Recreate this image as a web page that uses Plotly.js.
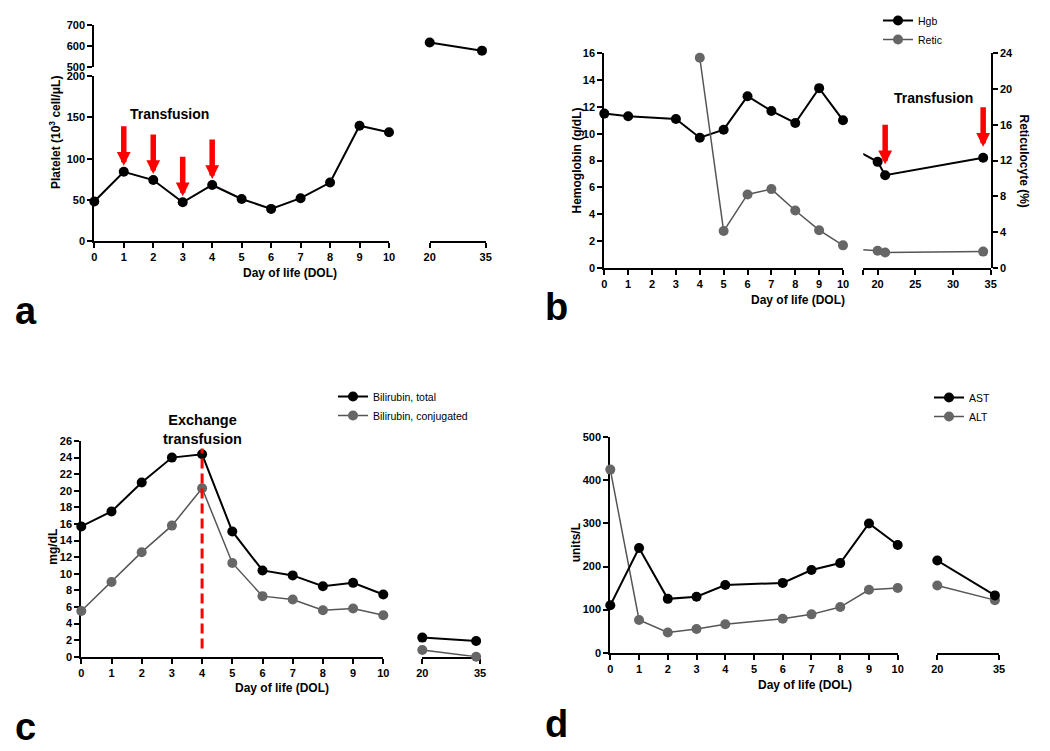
<!DOCTYPE html>
<html>
<head>
<meta charset="utf-8">
<script src="https://cdn.plot.ly/plotly-3.0.1.min.js"></script>
<style>html,body{margin:0;padding:0;background:#fff;}#chart{width:1050px;height:751px;}</style>
</head>
<body>
<div id="chart"></div>
<script>
// ---------- data ----------
// Panel a: platelets
const dolA = [0, 1, 2, 3, 4, 5, 6, 7, 8, 9, 10];
const platelet = [48, 84, 74, 47, 68, 51, 39, 52, 71, 140, 132];
const dolALate = [20, 34];
const plateletLate = [616, 577];
const transfusionDaysA = [1, 2, 3, 4];

// Panel b: hemoglobin and reticulocytes
const dolHgb = [0, 1, 3, 4, 5, 6, 7, 8, 9, 10, 20, 21, 34];
const hgb = [11.5, 11.3, 11.1, 9.7, 10.3, 12.8, 11.7, 10.8, 13.4, 11.0, 7.9, 6.9, 8.2];
const dolRetic = [4, 5, 6, 7, 8, 9, 10, 20, 21, 34];
const retic = [23.5, 4.1, 8.2, 8.8, 6.4, 4.2, 2.5, 1.9, 1.7, 1.8];
const transfusionDaysB = [21, 34];

// Panel c: bilirubin
const dolBili = [0, 1, 2, 3, 4, 5, 6, 7, 8, 9, 10, 20, 34];
const biliTotal = [15.7, 17.5, 21.0, 24.0, 24.4, 15.1, 10.4, 9.8, 8.5, 8.9, 7.5, 2.3, 1.9];
const biliConj = [5.5, 9.0, 12.6, 15.8, 20.3, 11.3, 7.3, 6.9, 5.6, 5.8, 5.0, 0.8, 0.0];
const exchangeDay = 4;

// Panel d: liver enzymes
const dolLiver = [0, 1, 2, 3, 4, 6, 7, 8, 9, 10, 20, 34];
const ast = [110, 243, 125, 130, 157, 162, 192, 208, 300, 250, 214, 133];
const alt = [425, 76, 47, 55, 66, 79, 89, 106, 146, 150, 156, 122];

// tick labels
const earlyTicks = [0, 1, 2, 3, 4, 5, 6, 7, 8, 9, 10];
const lateTicks = [20, 35];
const lateTicksB = [20, 25, 30, 35];
const plateletTicks = [0, 50, 100, 150, 200];
const plateletHighTicks = [500, 600, 700];
const hgbTicks = [0, 2, 4, 6, 8, 10, 12, 14, 16];
const reticTicks = [0, 4, 8, 12, 16, 20, 24];
const biliTicks = [0, 2, 4, 6, 8, 10, 12, 14, 16, 18, 20, 22, 24, 26];
const liverTicks = [0, 100, 200, 300, 400, 500];

// ---------- helpers ----------
const W = 1050, H = 751;
const fx = p => p / W;
const fy = p => 1 - p / H;
const FONT = 'Liberation Sans, Arial, sans-serif';
const BLACK = '#000000', GRAY = '#666666', GRAYLINE = '#555555', RED = '#ff0000';

function pick(xs, ys, test) {
  const ox = [], oy = [];
  xs.forEach((x, i) => { if (test(x)) { ox.push(x); oy.push(ys[i]); } });
  return [ox, oy];
}
function valAt(xs, ys, x) { return ys[xs.indexOf(x)]; }

function axisBase(ticks, extra) {
  return Object.assign({
    showgrid: false, zeroline: false, showline: true, linecolor: BLACK, linewidth: 2,
    ticks: 'outside', ticklen: 5, tickwidth: 2, tickcolor: BLACK,
    tickmode: 'array', tickvals: ticks, ticktext: ticks.map(v => '<b>' + v + '</b>'),
    tickfont: {family: FONT, size: 11, color: BLACK},
    layer: 'below traces', fixedrange: true
  }, extra);
}
function series(x, y, xa, ya, color, lineColor, lw, name, legend, showlegend, clip) {
  return {
    type: 'scatter', mode: 'lines+markers', x: x, y: y, xaxis: xa, yaxis: ya,
    name: name, legend: legend, showlegend: showlegend, legendgroup: name,
    line: {color: lineColor, width: lw},
    marker: {color: color, size: 10},
    cliponaxis: clip, hoverinfo: 'skip'
  };
}

const traces = [];

// Panel a
traces.push(series(dolA, platelet, 'x', 'y', BLACK, BLACK, 2, 'Platelet', 'legend', false, false));
traces.push(series(dolALate, plateletLate, 'x2', 'y2', BLACK, BLACK, 2, 'Platelet late', 'legend', false, false));

// Panel b
const [hx1, hy1] = pick(dolHgb, hgb, d => d <= 10);
const [hx2, hy2] = pick(dolHgb, hgb, d => d >= 10);
const [rx1, ry1] = pick(dolRetic, retic, d => d <= 10);
const [rx2, ry2] = pick(dolRetic, retic, d => d >= 10);
traces.push(series(rx1, ry1, 'x3', 'y4', GRAY, GRAYLINE, 1.5, 'Retic', 'legend', false, false));
traces.push(series(rx2, ry2, 'x4', 'y4', GRAY, GRAYLINE, 1.5, 'Retic', 'legend', false, true));
traces.push(series(hx1, hy1, 'x3', 'y3', BLACK, BLACK, 2, 'Hgb', 'legend', true, false));
traces.push(series(hx2, hy2, 'x4', 'y3', BLACK, BLACK, 2, 'Hgb', 'legend', false, true));
traces.push(series([null], [null], 'x3', 'y4', GRAY, GRAYLINE, 1.5, 'Retic', 'legend', true, false));

// Panel c
const [cx1, ct1] = pick(dolBili, biliTotal, d => d <= 10);
const [cx2, ct2] = pick(dolBili, biliTotal, d => d >= 20);
const [, cc1] = pick(dolBili, biliConj, d => d <= 10);
const [, cc2] = pick(dolBili, biliConj, d => d >= 20);
traces.push(series(cx1, cc1, 'x5', 'y5', GRAY, GRAYLINE, 1.5, 'Bilirubin, conjugated', 'legend2', false, false));
traces.push(series(cx2, cc2, 'x6', 'y5', GRAY, GRAYLINE, 1.5, 'Bilirubin, conjugated', 'legend2', false, false));
traces.push(series(cx1, ct1, 'x5', 'y5', BLACK, BLACK, 2, 'Bilirubin, total', 'legend2', true, false));
traces.push(series(cx2, ct2, 'x6', 'y5', BLACK, BLACK, 2, 'Bilirubin, total', 'legend2', false, false));
traces.push(series([null], [null], 'x5', 'y5', GRAY, GRAYLINE, 1.5, 'Bilirubin, conjugated', 'legend2', true, false));

// Panel d
const [dx1, da1] = pick(dolLiver, ast, d => d <= 10);
const [dx2, da2] = pick(dolLiver, ast, d => d >= 20);
const [, dl1] = pick(dolLiver, alt, d => d <= 10);
const [, dl2] = pick(dolLiver, alt, d => d >= 20);
traces.push(series(dx1, dl1, 'x7', 'y6', GRAY, GRAYLINE, 1.5, 'ALT', 'legend3', false, false));
traces.push(series(dx2, dl2, 'x8', 'y6', GRAY, GRAYLINE, 1.5, 'ALT', 'legend3', false, false));
traces.push(series(dx1, da1, 'x7', 'y6', BLACK, BLACK, 2, 'AST', 'legend3', true, false));
traces.push(series(dx2, da2, 'x8', 'y6', BLACK, BLACK, 2, 'AST', 'legend3', false, false));
traces.push(series([null], [null], 'x7', 'y6', GRAY, GRAYLINE, 1.5, 'ALT', 'legend3', true, false));

// ---------- annotations ----------
const ann = [];
function txt(text, x, y, size, opts) {
  return Object.assign({
    text: text, xref: 'paper', yref: 'paper', x: fx(x), y: fy(y),
    xanchor: 'center', yanchor: 'middle', showarrow: false,
    font: {family: FONT, size: size, color: BLACK, weight: 'bold'}
  }, opts || {});
}
function arrow(xa, ya, x, y, shift) {
  return {
    xref: xa, yref: ya, x: x, y: y, text: '', showarrow: true,
    ax: 0, ay: -41, arrowcolor: RED, arrowwidth: 5.5, arrowhead: 2, arrowsize: 0.5,
    yshift: shift
  };
}
// panel letters
ann.push(txt('a', 13, 311, 38, {xanchor: 'left'}));
ann.push(txt('b', 543, 307, 38, {xanchor: 'left'}));
ann.push(txt('c', 13, 727, 38, {xanchor: 'left'}));
ann.push(txt('d', 543, 724, 38, {xanchor: 'left'}));
// axis titles
ann.push(txt('Day of life (DOL)', 290, 273, 12));
ann.push(txt('Day of life (DOL)', 797.5, 300, 12));
ann.push(txt('Day of life (DOL)', 281.7, 687.7, 12));
ann.push(txt('Day of life (DOL)', 805, 685.3, 12));
ann.push(txt('Platelet (10<sup>3</sup> cell/μL)', 55, 133, 12, {textangle: -90}));
ann.push(txt('Hemoglobin (g/dL)', 576, 160.5, 12, {textangle: -90}));
ann.push(txt('Reticulocyte (%)', 1024, 160.5, 12, {textangle: 90}));
ann.push(txt('mg/dL', 53, 546.7, 12, {textangle: -90}));
ann.push(txt('units/L', 576, 543.3, 12, {textangle: -90}));
// event labels
ann.push(txt('Transfusion', 169, 114.3, 14));
ann.push(txt('Transfusion', 933.7, 97.7, 14));
ann.push(txt('Exchange<br>transfusion', 202.3, 429, 14.5));
// arrows
transfusionDaysA.forEach(d => ann.push(arrow('x', 'y', d, valAt(dolA, platelet, d), 6)));
transfusionDaysB.forEach(d => ann.push(arrow('x4', 'y3', d, valAt(dolHgb, hgb, d), 11)));

// ---------- layout ----------
const legendFont = {family: FONT, size: 10.5, color: BLACK};
const layout = {
  width: W, height: H, autosize: false,
  margin: {l: 0, r: 0, t: 0, b: 0},
  paper_bgcolor: '#ffffff', plot_bgcolor: 'rgba(0,0,0,0)',
  font: {family: FONT, color: BLACK},
  hovermode: false,
  // panel a
  xaxis: axisBase(earlyTicks, {domain: [fx(94.3), fx(389)], range: [0, 10], anchor: 'y'}),
  xaxis2: axisBase(lateTicks, {domain: [fx(429.7), fx(485.7)], range: [20, 35], anchor: 'y'}),
  yaxis: axisBase(plateletTicks, {domain: [fy(241), fy(76.3)], range: [0, 200], anchor: 'x'}),
  yaxis2: axisBase(plateletHighTicks, {domain: [fy(66.7), fy(25)], range: [500, 700], anchor: 'x'}),
  // panel b
  xaxis3: axisBase(earlyTicks, {domain: [fx(604.3), fx(843)], range: [0, 10], anchor: 'y3'}),
  xaxis4: axisBase(lateTicksB, {domain: [fx(863.3), fx(990.7)], range: [18.1, 35], anchor: 'y3',
                    minor: {tickmode: 'array', tickvals: [18.1], ticks: 'outside', ticklen: 5, tickwidth: 2,
                            tickcolor: BLACK, showgrid: false}}),
  yaxis3: axisBase(hgbTicks, {domain: [fy(267.7), fy(53.3)], range: [0, 16], anchor: 'x3'}),
  yaxis4: axisBase(reticTicks, {domain: [fy(267.7), fy(53.3)], range: [0, 24], anchor: 'x4', side: 'right'}),
  // panel c
  xaxis5: axisBase(earlyTicks, {domain: [fx(81.3), fx(383.3)], range: [0, 10], anchor: 'y5'}),
  xaxis6: axisBase(lateTicks, {domain: [fx(422.3), fx(480)], range: [20, 35], anchor: 'y5'}),
  yaxis5: axisBase(biliTicks, {domain: [fy(656.7), fy(441)], range: [0, 26], anchor: 'x5'}),
  // panel d
  xaxis7: axisBase(earlyTicks, {domain: [fx(610.3), fx(897.7)], range: [0, 10], anchor: 'y6'}),
  xaxis8: axisBase(lateTicks, {domain: [fx(937.3), fx(999)], range: [20, 35], anchor: 'y6'}),
  yaxis6: axisBase(liverTicks, {domain: [fy(652.7), fy(437.3)], range: [0, 500], anchor: 'x7'}),
  legend: {x: fx(878), y: fy(6), xanchor: 'left', yanchor: 'top', bgcolor: 'rgba(0,0,0,0)',
           font: legendFont, tracegroupgap: 0},
  legend2: {x: fx(333), y: fy(382), xanchor: 'left', yanchor: 'top', bgcolor: 'rgba(0,0,0,0)',
            font: legendFont, tracegroupgap: 0},
  legend3: {x: fx(929), y: fy(383), xanchor: 'left', yanchor: 'top', bgcolor: 'rgba(0,0,0,0)',
            font: legendFont, tracegroupgap: 0},
  shapes: [{
    type: 'line', xref: 'x5', yref: 'y5', x0: exchangeDay, x1: exchangeDay, y0: 1.0, y1: 25.1,
    line: {color: RED, width: 3, dash: '10px,5px'}, layer: 'above'
  }],
  annotations: ann
};

Plotly.newPlot('chart', traces, layout, {displayModeBar: false, staticPlot: true});
</script>
</body>
</html>
